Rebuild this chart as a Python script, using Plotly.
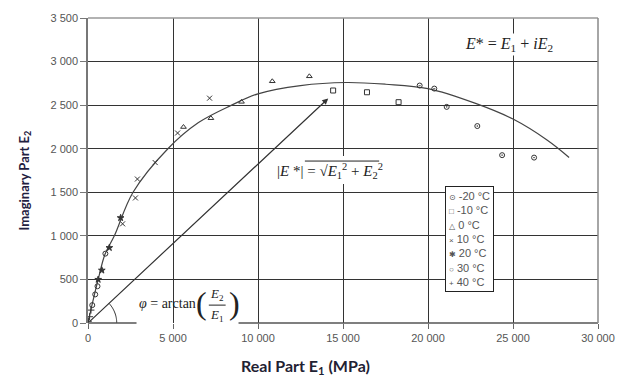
import numpy as np
import plotly.graph_objects as go

# ---- data ----
temps = ["-20 °C", "-10 °C", "0 °C", "10 °C", "20 °C", "30 °C", "40 °C"]
e1_m20 = [19510, 20370, 21100, 22900, 24360, 26240]
e2_m20 = [2725, 2690, 2480, 2260, 1926, 1898]
e1_m10 = [14420, 16410, 18270]
e2_m10 = [2668, 2648, 2534]
e1_0 = [5616, 7230, 9030, 10840, 13020]
e2_0 = [2249, 2350, 2538, 2774, 2831]
e1_10 = [2035, 2791, 2907, 3953, 5270, 7151]
e2_10 = [1138, 1435, 1652, 1841, 2180, 2580]
e1_20 = [599, 814, 1256, 1919]
e2_20 = [499, 605, 864, 1207]
e1_30 = [250, 424, 558, 1023]
e2_30 = [205, 328, 422, 796]
e1_40 = [20, 93, 174]
e2_40 = [20, 72, 148]

curve_e1 = [0, 250, 600, 1000, 1550, 2650, 4700, 6500, 8450, 10000, 12500, 15200, 17500, 20000, 22800, 25000, 27000, 28300]
curve_e2 = [0, 220, 500, 790, 1000, 1500, 2000, 2300, 2500, 2630, 2725, 2760, 2740, 2690, 2520, 2340, 2100, 1900]

arrow_tip = (14130, 2577)

x_ticks = [0, 5000, 10000, 15000, 20000, 25000, 30000]
y_ticks = [0, 500, 1000, 1500, 2000, 2500, 3000, 3500]

series_e1 = [e1_m20, e1_m10, e1_0, e1_10, e1_20, e1_30, e1_40]
series_e2 = [e2_m20, e2_m10, e2_0, e2_10, e2_20, e2_30, e2_40]
symbols = ["circle-open-dot", "square-open", "triangle-up-open", "x-thin-open",
           "star", "circle-open", "cross-thin-open"]
legend_glyphs = ["⊙", "□", "△", "×", "✱", "○", "+"]

# ---- geometry of the plot area in pixels ----
W, H = 627, 378
ML, MR, MT, MB = 88, 24, 16, 55
PW, PH = W - ML - MR, H - MT - MB
X0, Y0 = ML, H - MB


def pp(px, py):
    """pixel -> paper coordinates"""
    return (px - X0) / PW, (Y0 - py) / PH


mk = "#333333"
fig = go.Figure()

fig.add_trace(go.Scatter(x=curve_e1, y=curve_e2, mode="lines",
                         line=dict(color="#444", width=1.2, shape="spline"),
                         showlegend=False, hoverinfo="skip"))

for name, xs, ys, sym in zip(temps, series_e1, series_e2, symbols):
    fig.add_trace(go.Scatter(x=xs, y=ys, mode="markers", name=name, showlegend=False,
                             marker=dict(symbol=sym, size=5, color=mk, line=dict(color=mk, width=1))))

# angle arc near origin (decoration)
sx = PW / 30000.0
sy = PH / 3500.0
theta_end = np.arctan2(arrow_tip[1] * sy, arrow_tip[0] * sx)
th = np.linspace(0, theta_end, 20)
rpx = 29
arc_x = rpx * np.cos(th) / sx
arc_y = rpx * np.sin(th) / sy
path = "M " + " L ".join(f"{a:.1f},{b:.1f}" for a, b in zip(arc_x, arc_y))

bx0, _ = pp(137, 0)
bx1, _ = pp(240, 0)
fx0, fy = pp(210, 305)
fx1, _ = pp(227, 305)
ox0, oy = pp(307, 160)
ox1, _ = pp(382, 160)
wx0, wy0 = pp(279, 183)
wx1, wy1 = pp(386, 155)

shapes = [
    dict(type="path", path=path, xref="x", yref="y", line=dict(color="#333", width=1)),
    # baseline at y=0, interrupted behind phi formula
    dict(type="line", xref="paper", yref="paper", x0=0, x1=bx0, y0=0, y1=0, line=dict(color="#555", width=1.5)),
    dict(type="line", xref="paper", yref="paper", x0=bx1, x1=1, y0=0, y1=0, line=dict(color="#555", width=1.5)),
    # frame top/right
    dict(type="line", xref="paper", yref="paper", x0=0, x1=1, y0=1, y1=1, line=dict(color="#999", width=1.5)),
    dict(type="line", xref="paper", yref="paper", x0=1, x1=1, y0=0, y1=1, line=dict(color="#888", width=1.5)),
    # white patch behind |E*| formula, then radical overline
    dict(type="rect", xref="paper", yref="paper", x0=wx0, x1=wx1, y0=wy0, y1=wy1,
         fillcolor="white", line=dict(width=0), layer="above"),
    dict(type="line", xref="paper", yref="paper", x0=ox0, x1=ox1, y0=oy, y1=oy,
         line=dict(color="#222", width=1)),
    # fraction bar in phi formula
    dict(type="line", xref="paper", yref="paper", x0=fx0, x1=fx1, y0=fy, y1=fy,
         line=dict(color="#222", width=1)),
]

annotations = []
# arrow from origin to tip
annotations.append(dict(x=arrow_tip[0], y=arrow_tip[1], ax=0, ay=0, axref="x", ayref="y", xref="x", yref="y",
                        showarrow=True, arrowhead=2, arrowsize=1, arrowwidth=1.2, arrowcolor="#333", text=""))
serif = "Liberation Serif"


def add_text(px, py, text, size, family=serif, color="#222", **kw):
    x, y = pp(px, py)
    d = dict(x=x, y=y, xref="paper", yref="paper", showarrow=False, xanchor="center", yanchor="middle",
             text=text, font=dict(family=family, size=size, color=color))
    d.update(kw)
    annotations.append(d)


add_text(513, 43, "<i>E</i>* = <i>E</i><sub>1</sub> + <i>iE</i><sub>2</sub>", 16, bgcolor="white")
add_text(332, 170, "|<i>E</i> *| = √<i>E</i><sub>1</sub><sup>2</sup> + <i>E</i><sub>2</sub><sup>2</sup>", 15)
add_text(168, 303, "<i>φ</i> = arctan", 14)
add_text(203, 303, "(", 32)
add_text(236, 303, ")", 32)
add_text(218, 294, "<i>E</i><sub>2</sub>", 13)
add_text(218, 315, "<i>E</i><sub>1</sub>", 13)

# axis titles
add_text(308, 367, "<b>Real Part E<sub>1</sub> (MPa)</b>", 16, family="Lato", color="#1f2233")
add_text(24, 180, "<b>Imaginary Part E<sub>2</sub></b>", 13, family="Lato", color="#1f2040", textangle=-90)

# legend box
leg_lines = [f"<span style='font-size:8px'>{g}</span> {t}" for g, t in zip(legend_glyphs, temps)]
lx, ly = pp(449, 185)
annotations.append(dict(x=lx, y=ly, xref="paper", yref="paper", xanchor="left", yanchor="top",
                        showarrow=False, align="left", text="<br>".join(leg_lines),
                        bgcolor="white", bordercolor="#222", borderwidth=1, borderpad=3,
                        font=dict(family="Liberation Sans, DejaVu Sans", size=11, color="#555")))

tickfont = dict(family="Liberation Sans", size=11, color="#555")
fig.update_layout(
    width=W, height=H,
    margin=dict(l=ML, r=MR, t=MT, b=MB),
    plot_bgcolor="white", paper_bgcolor="white",
    separators=". ",
    showlegend=False,
    xaxis=dict(range=[0, 30000], tickvals=x_ticks, tickformat=",d",
               separatethousands=True, showgrid=True, gridcolor="#333", gridwidth=1.2,
               showline=False, zeroline=False, ticks="outside", ticklen=5, tickcolor="#666",
               tickfont=tickfont),
    yaxis=dict(range=[0, 3500], tickvals=y_ticks, tickformat=",d",
               separatethousands=True, showgrid=True, gridcolor="#333", gridwidth=1.2,
               showline=True, linecolor="#777", linewidth=1.5, zeroline=False,
               ticks="outside", ticklen=6, tickcolor="#777", tickfont=tickfont),
    shapes=shapes,
    annotations=annotations,
)

fig.write_html("out.html")
